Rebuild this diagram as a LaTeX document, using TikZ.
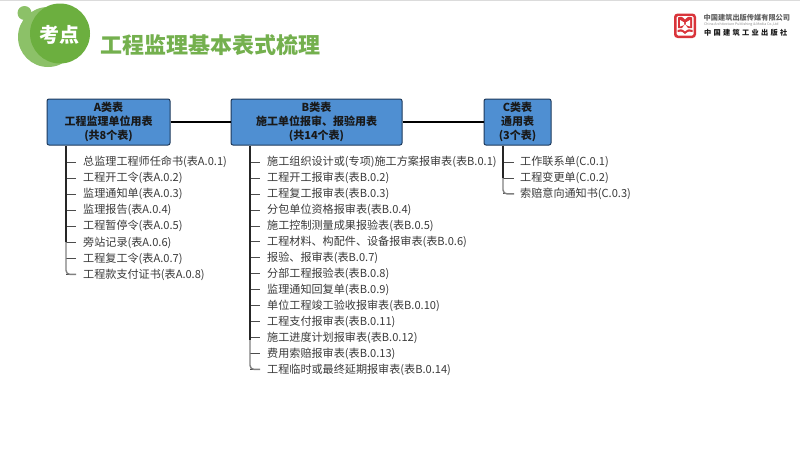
\documentclass[tikz,border=0pt]{standalone}
\usepackage{fontspec}
\setmainfont{Noto Sans CJK SC}
\usetikzlibrary{calc}
\definecolor{boxfill}{HTML}{4F8FD2}
\definecolor{boxline}{HTML}{1E3A5C}
\definecolor{lightgreen}{HTML}{8CC168}
\definecolor{darkgreen}{HTML}{6CAF3F}
\definecolor{titlegreen}{HTML}{74B04E}
\definecolor{itemtext}{HTML}{3A3A3A}
\definecolor{logored}{HTML}{D9343A}
\tikzset{
 x=1pt,y=-1pt,
 headbox/.style={draw=boxline,line width=1pt,fill=boxfill,rounded corners=2pt,minimum height=46pt,inner sep=0pt,align=center,font=\fontsize{11}{13.6}\selectfont\bfseries,text=black!90},
 item/.style={anchor=west,inner sep=0pt,font=\fontsize{11.1}{13}\selectfont,text=itemtext},
 tie/.style={line width=1.6pt,black},
 trunk/.style={line width=1.4pt,color=black!85},
 trunkend/.style={line width=1.4pt,color=black!50,rounded corners=4pt},
 tick/.style={line width=1pt,color=black!70},
}
\begin{document}
\begin{tikzpicture}
\useasboundingbox (0,0) rectangle (800,450);
\fill[white] (0,0) rectangle (800,450);
\fill[black!14] (0,0) rectangle (800,1.2);
% badge
\fill[lightgreen] (24.5,13) circle (7);
\fill[lightgreen] (48,37) circle (30);
\fill[darkgreen] (60,33.5) circle (30);
\node[inner sep=0pt,text=white,font=\fontsize{20}{22}\selectfont\bfseries] (badge) at (59,34.5) {考点};
\node[anchor=west,inner sep=0pt,text=titlegreen,font=\fontsize{22}{24}\selectfont\bfseries] (title) at (100.5,45) {工程监理基本表式梳理};
% logo
\fill[logored,rounded corners=3.5pt] (674,13.5) rectangle (696,38);
\fill[white,rounded corners=1.5pt] (676.5,16) rectangle (693.5,35.5);
\fill[logored] (678,17.5) .. controls (681,15.8) and (683.5,17) .. (685,19.5) .. controls (686.5,17) and (689,15.8) .. (692,17.5) -- (692,28) -- (688,28) -- (685,24) -- (682,28) -- (678,28) -- cycle;
\fill[white] (680,20) -- (684.2,22.5) -- (684.2,25) -- (680,26.5) -- cycle;
\fill[white] (690,20) -- (685.8,22.5) -- (685.8,25) -- (690,26.5) -- cycle;
\fill[logored] (677.5,30) .. controls (680,28.5) and (682,29) .. (685,31.5) .. controls (688,29) and (690,28.5) .. (692.5,30) -- (692.5,32) .. controls (690,31) and (688,31) .. (685,34) .. controls (682,31) and (680,31) .. (677.5,32) -- cycle;
\node[anchor=west,inner sep=0pt,text=black!62,font=\fontsize{7.2}{8}\selectfont\bfseries] (logoa) at (703.5,17.5) {中国建筑出版传媒有限公司};
\node[anchor=west,inner sep=0pt,text=black!45,font=\fontsize{3.5}{4}\selectfont] (logob) at (704,24.5) {China Architecture Publishing \& Media Co.,Ltd};
\node[anchor=west,inner sep=0pt,text=black!90,font=\fontsize{7.2}{8}\selectfont\bfseries] (logoc) at (704,33) {\addfontfeature{LetterSpace=32}中国建筑工业出版社};
% heads
\node[headbox,minimum width=123pt] (A) at (108.5,122) {A类表\\工程监理单位用表\\(共8个表)};
\node[headbox,minimum width=171pt] (B) at (316.5,122) {B类表\\施工单位报审、报验用表\\(共14个表)};
\node[headbox,minimum width=67pt] (C) at (517.5,122) {C类表\\通用表\\(3个表)};
\draw[tie] (A) -- (B);
\draw[tie] (B) -- (C);
% A items
\foreach \n/\t [count=\i from 0] in {1/总监理工程师任命书(表A.0.1),2/工程开工令(表A.0.2),3/监理通知单(表A.0.3),4/监理报告(表A.0.4),5/工程暂停令(表A.0.5),6/旁站记录(表A.0.6),7/工程复工令(表A.0.7),8/工程款支付证书(表A.0.8)}{
 \node[item] (a\n) at (83,162.3+16.02*\i) {\t};
 \draw[tick] (66,162.3+16.02*\i) -- (a\n.west -| 76,0);
}
% B items
\foreach \n/\t [count=\i from 0] in {1/施工组织设计或(专项)施工方案报审表(表B.0.1),2/工程开工报审表(表B.0.2),3/工程复工报审表(表B.0.3),4/分包单位资格报审表(表B.0.4),5/施工控制测量成果报验表(表B.0.5),6/工程材料、构配件、设备报审表(表B.0.6),7/报验、报审表(表B.0.7),8/分部工程报验表(表B.0.8),9/监理通知回复单(表B.0.9),10/单位工程竣工验收报审表(表B.0.10),11/工程支付报审表(表B.0.11),12/施工进度计划报审表(表B.0.12),13/费用索赔报审表(表B.0.13),14/工程临时或最终延期报审表(表B.0.14)}{
 \node[item] (b\n) at (267,162.3+15.93*\i) {\t};
 \draw[tick] (250,162.3+15.93*\i) -- (b\n.west -| 260,0);
}
% C items
\foreach \n/\t [count=\i from 0] in {1/工作联系单(C.0.1),2/工程变更单(C.0.2),3/索赔意向通知书(C.0.3)}{
 \node[item] (c\n) at (520,162.3+15.8*\i) {\t};
 \draw[tick] (503,162.3+15.8*\i) -- (c\n.west -| 514,0);
}
% trunks
\coordinate (ta) at (66,242);
\coordinate (tb) at (250,340);
\coordinate (tc) at (503,178);
\draw[trunk] (A.south -| ta) -- (ta);
\draw[trunkend] (ta) -- (a8.west -| ta) -- (a8.west -| 76,0);
\draw[trunk] (B.south -| tb) -- (tb);
\draw[trunkend] (tb) -- (b14.west -| tb) -- (b14.west -| 260,0);
\draw[trunk] (C.south -| tc) -- (tc);
\draw[trunkend] (tc) -- (c3.west -| tc) -- (c3.west -| 514,0);
\end{tikzpicture}
\end{document}
